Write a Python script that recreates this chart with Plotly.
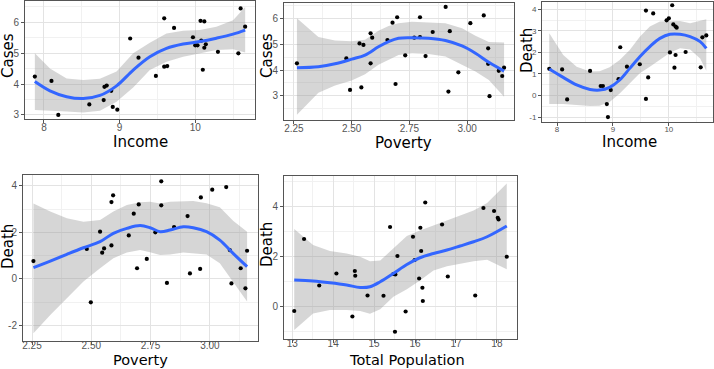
import plotly.graph_objects as go

# ---------------- data ----------------
# Panel 1: Income vs Cases
inc1 = [7.88, 8.10, 8.19, 8.60, 8.79, 8.80, 8.83, 8.89, 8.91, 8.97, 9.14, 9.25, 9.48, 9.59, 9.59,
        9.63, 9.72, 9.97, 10.00, 10.03, 10.07, 10.12, 10.08, 10.10, 10.12, 10.14, 10.30, 10.60, 10.66, 10.57]
cases1 = [4.24, 4.10, 3.00, 3.34, 3.48, 3.91, 3.95, 3.78, 3.26, 3.17, 5.47, 4.85, 4.26, 6.12, 4.56,
          4.58, 5.81, 5.51, 5.25, 5.25, 6.04, 6.02, 5.40, 4.46, 5.17, 5.28, 5.04, 6.44, 5.85, 4.99]
fit1_x = [7.88, 8.08, 8.30, 8.52, 8.74, 8.96, 9.18, 9.40, 9.62, 9.84, 10.06, 10.28, 10.50, 10.66]
fit1_y = [4.08, 3.78, 3.59, 3.53, 3.63, 3.94, 4.45, 4.88, 5.15, 5.29, 5.37, 5.48, 5.61, 5.74]
fit1_hi = [4.99, 4.50, 4.18, 4.13, 4.17, 4.40, 4.99, 5.33, 5.63, 5.72, 5.74, 5.85, 6.06, 6.49]
fit1_lo = [3.16, 3.13, 3.11, 3.08, 3.14, 3.43, 3.89, 4.45, 4.72, 4.88, 4.99, 5.10, 5.12, 5.02]

# Panel 2: Poverty vs Cases
pov2 = [2.263, 2.477, 2.493, 2.534, 2.542, 2.551, 2.582, 2.582, 2.589, 2.655, 2.677, 2.697, 2.690,
        2.732, 2.771, 2.796, 2.796, 2.820, 2.851, 2.907, 2.919, 2.925, 2.962, 3.014, 3.072, 3.091,
        3.091, 3.097, 3.137, 3.160, 3.152]
cases2 = [4.26, 4.45, 3.23, 5.03, 3.33, 4.97, 5.42, 4.26, 5.25, 5.16, 5.83, 6.04, 3.46, 4.57, 5.25,
          6.04, 5.27, 4.54, 5.47, 6.44, 3.17, 5.50, 3.91, 5.81, 6.11, 4.84, 4.24, 2.99, 3.97, 4.09, 3.77]
fit2_x = [2.263, 2.356, 2.428, 2.500, 2.558, 2.616, 2.660, 2.703, 2.761, 2.833, 2.906, 2.978, 3.036, 3.094, 3.160]
fit2_y = [4.09, 4.13, 4.24, 4.42, 4.58, 4.90, 5.10, 5.23, 5.25, 5.23, 5.14, 4.93, 4.65, 4.30, 3.96]
fit2_hi = [6.00, 5.28, 5.14, 5.11, 5.17, 5.52, 5.70, 5.81, 5.87, 5.84, 5.81, 5.61, 5.32, 5.08, 5.06]
fit2_lo = [2.27, 3.12, 3.40, 3.60, 3.84, 4.20, 4.40, 4.58, 4.65, 4.62, 4.52, 4.20, 3.94, 3.62, 2.97]

# Panel 3: Income vs Death
inc3 = [7.86, 8.09, 8.18, 8.59, 8.78, 8.82, 8.89, 8.91, 8.96, 9.10, 9.13, 9.25, 9.48, 9.59, 9.59,
        9.63, 9.72, 9.96, 10.00, 10.02, 10.06, 10.08, 10.12, 10.14, 10.10, 10.12, 10.30, 10.57, 10.60, 10.67]
death3 = [1.24, 1.21, -0.18, 1.14, 0.44, 0.44, -0.40, -1.00, 0.25, 0.76, 2.24, 1.34, 1.45, 3.94, -0.16,
          0.84, 3.81, 3.49, 3.58, 2.00, 4.19, 3.30, 3.20, 3.15, 1.29, 1.88, 2.02, 1.31, 2.70, 2.79]
fit3_x = [7.86, 8.11, 8.35, 8.59, 8.76, 8.94, 9.12, 9.30, 9.48, 9.66, 9.84, 10.02, 10.20, 10.38, 10.56, 10.67]
fit3_y = [1.23, 0.84, 0.49, 0.28, 0.25, 0.38, 0.72, 1.26, 1.80, 2.27, 2.65, 2.84, 2.84, 2.73, 2.50, 2.19]
fit3_hi = [2.89, 1.88, 1.34, 1.11, 1.13, 1.31, 1.65, 2.11, 2.73, 3.20, 3.43, 3.46, 3.46, 3.35, 3.47, 3.54]
fit3_lo = [-0.40, -0.40, -0.44, -0.49, -0.47, -0.30, 0.09, 0.56, 1.03, 1.34, 1.65, 1.99, 2.19, 2.14, 1.72, 1.15]

# Panel 4: Poverty vs Death
pov4 = [2.256, 2.481, 2.498, 2.537, 2.546, 2.554, 2.585, 2.585, 2.592, 2.658, 2.679, 2.693, 2.700,
        2.734, 2.770, 2.795, 2.795, 2.819, 2.849, 2.906, 2.916, 2.959, 2.962, 3.010, 3.069, 3.084,
        3.091, 3.130, 3.150, 3.157]
death4 = [0.77, 1.29, -1.00, 2.03, 1.13, 1.31, 3.30, 1.44, 3.59, 1.87, 2.80, 0.46, 3.20, 0.86, 2.00,
          4.19, 3.16, -0.17, 2.23, 2.70, 0.24, 0.43, 3.50, 3.83, 3.94, 1.24, -0.19, 0.46, -0.40, 1.21]
fit4_x = [2.256, 2.327, 2.397, 2.467, 2.537, 2.593, 2.650, 2.706, 2.748, 2.790, 2.832, 2.888, 2.930,
          2.986, 3.042, 3.098, 3.157]
fit4_y = [0.49, 0.77, 1.06, 1.34, 1.60, 1.96, 2.17, 2.29, 2.20, 2.03, 2.10, 2.24, 2.20, 2.03, 1.67, 1.10, 0.53]
fit4_hi = [3.24, 2.89, 2.60, 2.46, 2.53, 2.89, 3.17, 3.29, 3.31, 3.24, 3.31, 3.35, 3.35, 3.25, 3.08, 2.50, 2.03]
fit4_lo = [-2.33, -1.54, -0.83, -0.11, 0.46, 0.89, 1.14, 1.24, 1.15, 1.03, 1.05, 1.14, 1.12, 1.05, 0.67, -0.11, -0.97]

# Panel 5: Total Population vs Death
pop5 = [13.05, 13.29, 13.66, 14.08, 14.47, 14.53, 14.54, 14.84, 15.23, 15.39, 15.47, 15.52, 15.51,
        15.57, 15.77, 15.95, 15.99, 16.10, 16.13, 16.15, 16.18, 16.19, 16.25, 16.66, 16.80, 17.47,
        17.67, 17.93, 18.02, 18.04, 18.24]
death5 = [-0.17, 2.71, 0.85, 1.33, -0.39, 1.43, 1.24, 0.45, 0.44, 3.19, 1.31, 1.29, -1.00, 2.03, -0.19,
          2.80, 1.87, 1.13, 3.16, 2.23, 0.76, 0.23, 4.17, 3.29, 1.21, 0.45, 3.95, 3.83, 3.56, 3.49, 2.00]
fit5_x = [13.05, 13.51, 13.92, 14.33, 14.66, 14.90, 15.15, 15.47, 15.80, 16.12, 16.45, 16.78, 17.10,
          17.43, 17.76, 18.24]
fit5_y = [1.07, 1.03, 0.96, 0.87, 0.77, 0.80, 1.00, 1.33, 1.69, 1.96, 2.13, 2.27, 2.43, 2.60, 2.80, 3.23]
fit5_hi = [3.11, 2.47, 2.23, 2.13, 2.00, 1.82, 1.85, 2.33, 2.83, 3.05, 3.25, 3.45, 3.65, 3.85, 4.15, 4.93]
fit5_lo = [-0.93, -0.27, -0.13, -0.13, -0.17, -0.28, -0.10, 0.40, 0.70, 1.05, 1.45, 1.62, 1.72, 1.82, 1.88, 1.50]

# tick labels
ticks_inc = [8, 9, 10]
ticks_inc_txt = ["8", "9", "10"]
ticks_pov = [2.25, 2.50, 2.75, 3.00]
ticks_pov_txt = ["2.25", "2.50", "2.75", "3.00"]
ticks_pop = [13, 14, 15, 16, 17, 18]
ticks_pop_txt = ["13", "14", "15", "16", "17", "18"]
ticks_cases = [3, 4, 5, 6]
ticks_cases_txt = ["3", "4", "5", "6"]
ticks_death3 = [-1, 0, 1, 2, 3, 4]
ticks_death3_txt = ["-1", "0", "1", "2", "3", "4"]
ticks_death4 = [-2, 0, 2, 4]
ticks_death4_txt = ["-2", "0", "2", "4"]
ticks_death5 = [0, 2, 4]
ticks_death5_txt = ["0", "2", "4"]

minor_inc = [7.5, 8.5, 9.5, 10.5]
minor_pov = [2.125, 2.375, 2.625, 2.875, 3.125]
minor_pop = [12.5, 13.5, 14.5, 15.5, 16.5, 17.5, 18.5]
minor_cases = [2.5, 3.5, 4.5, 5.5, 6.5]
minor_death3 = [-1.5, -0.5, 0.5, 1.5, 2.5, 3.5]
minor_death4 = [-3, -1, 1, 3]
minor_death5 = [-1, 1, 3, 5]

# ---------------- figure ----------------
W, H = 714, 369
BLUE = "#3366FF"
BAND = "rgba(153,153,153,0.4)"

# xtp: (center x px, top y px or None for bottom-anchored); ytp: (center x px, center y px)
panels = [
    dict(x=inc1, y=cases1, fx=fit1_x, fy=fit1_y, hi=fit1_hi, lo=fit1_lo, box=(25, 255, 1, 119),
         xr=[7.75, 10.79], yr=[2.87, 6.68], xt=ticks_inc, xtt=ticks_inc_txt, xm=minor_inc,
         yt=ticks_cases, ytt=ticks_cases_txt, ym=minor_cases, tf=10, so=-4, ts=15,
         xtitle="Income", ytitle="Cases", xtp=(140, 132), ytp=(8, 56)),
    dict(x=pov2, y=cases2, fx=fit2_x, fy=fit2_y, hi=fit2_hi, lo=fit2_lo, box=(284, 514, 3, 120),
         xr=[2.207, 3.203], yr=[2.07, 6.59], xt=ticks_pov, xtt=ticks_pov_txt, xm=minor_pov,
         yt=ticks_cases, ytt=ticks_cases_txt, ym=minor_cases, tf=10, so=-4, ts=15,
         xtitle="Poverty", ytitle="Cases", xtp=(403, 133), ytp=(267, 56)),
    dict(x=inc3, y=death3, fx=fit3_x, fy=fit3_y, hi=fit3_hi, lo=fit3_lo, box=(542, 713, 2, 122),
         xr=[7.73, 10.79], yr=[-1.23, 4.34], xt=ticks_inc, xtt=ticks_inc_txt, xm=minor_inc,
         yt=ticks_death3, ytt=ticks_death3_txt, ym=minor_death3, tf=8, so=-4, ts=15,
         xtitle="Income", ytitle="Death", xtp=(629, 132), ytp=(527, 51)),
    dict(x=pov4, y=death4, fx=fit4_x, fy=fit4_y, hi=fit4_hi, lo=fit4_lo, box=(23, 258, 175, 341),
         xr=[2.212, 3.203], yr=[-2.66, 4.46], xt=ticks_pov, xtt=ticks_pov_txt, xm=minor_pov,
         yt=ticks_death4, ytt=ticks_death4_txt, ym=minor_death4, tf=10, so=-8, ts=14.5,
         xtitle="Poverty", ytitle="Death", xtp=(140, None), ytp=(8, 247)),
    dict(x=pop5, y=death5, fx=fit5_x, fy=fit5_y, hi=fit5_hi, lo=fit5_lo, box=(284, 517, 176, 339),
         xr=[12.80, 18.49], yr=[-1.29, 5.23], xt=ticks_pop, xtt=ticks_pop_txt, xm=minor_pop,
         yt=ticks_death5, ytt=ticks_death5_txt, ym=minor_death5, tf=10, so=-8, ts=14.5,
         xtitle="Total Population", ytitle="Death", xtp=(407, None), ytp=(267, 245)),
]

fig = go.Figure()
annotations = []
for i, p in enumerate(panels, start=1):
    xa = "x" if i == 1 else f"x{i}"
    ya = "y" if i == 1 else f"y{i}"
    # confidence band
    fig.add_trace(go.Scatter(x=p["fx"] + p["fx"][::-1], y=p["hi"] + p["lo"][::-1],
                             fill="toself", fillcolor=BAND, line=dict(width=0),
                             mode="lines", hoverinfo="skip", showlegend=False,
                             xaxis=xa, yaxis=ya))
    # points
    fig.add_trace(go.Scatter(x=p["x"], y=p["y"], mode="markers",
                             marker=dict(color="black", size=4.2), showlegend=False,
                             xaxis=xa, yaxis=ya))
    # smooth line
    fig.add_trace(go.Scatter(x=p["fx"], y=p["fy"], mode="lines",
                             line=dict(color=BLUE, width=3, shape="spline"), showlegend=False,
                             xaxis=xa, yaxis=ya))
    x0, x1, y0, y1 = p["box"]
    common = dict(showline=True, mirror=True, linecolor="#555555", linewidth=1,
                  showgrid=True, gridcolor="#e3e3e3", gridwidth=1, zeroline=False,
                  ticks="outside", ticklen=3, tickcolor="#555555", tickwidth=1,
                  tickfont=dict(family="Liberation Sans, Arial, sans-serif", size=p["tf"], color="#555555"),
                  tickmode="array")
    fig.layout[("xaxis" if i == 1 else f"xaxis{i}")] = dict(
        domain=[x0 / W, x1 / W], anchor=ya, range=p["xr"], tickvals=p["xt"], ticktext=p["xtt"],
        ticklabelstandoff=p["so"],
        minor=dict(tickmode="array", tickvals=p["xm"], showgrid=True, gridcolor="#f1f1f1", gridwidth=0.6),
        **common)
    fig.layout[("yaxis" if i == 1 else f"yaxis{i}")] = dict(
        domain=[1 - y1 / H, 1 - y0 / H], anchor=xa, range=p["yr"], tickvals=p["yt"], ticktext=p["ytt"],
        minor=dict(tickmode="array", tickvals=p["ym"], showgrid=True, gridcolor="#f1f1f1", gridwidth=0.6),
        **common)
    tfont = dict(family="DejaVu Sans, sans-serif", size=p["ts"], color="black")
    yfont = dict(family="DejaVu Sans, sans-serif", size=15, color="black")
    if p["xtp"][1] is None:
        annotations.append(dict(text=p["xtitle"], x=p["xtp"][0] / W, y=0, borderpad=0,
                                xref="paper", yref="paper", xanchor="center", yanchor="bottom",
                                showarrow=False, font=tfont))
    else:
        annotations.append(dict(text=p["xtitle"], x=p["xtp"][0] / W, y=1 - p["xtp"][1] / H, borderpad=0,
                                xref="paper", yref="paper", xanchor="center", yanchor="top",
                                showarrow=False, font=tfont))
    annotations.append(dict(text=p["ytitle"], x=p["ytp"][0] / W, y=1 - p["ytp"][1] / H, borderpad=0,
                            xref="paper", yref="paper", xanchor="center", yanchor="middle",
                            textangle=-90, showarrow=False, font=yfont))

fig.update_layout(width=W, height=H, margin=dict(l=0, r=0, t=0, b=0),
                  paper_bgcolor="white", plot_bgcolor="white", annotations=annotations,
                  showlegend=False)

fig.write_html("out.html", config={"displayModeBar": False},
               post_script="document.body.style.margin='0';document.body.style.padding='0';"
                           "document.body.style.overflow='hidden';")
